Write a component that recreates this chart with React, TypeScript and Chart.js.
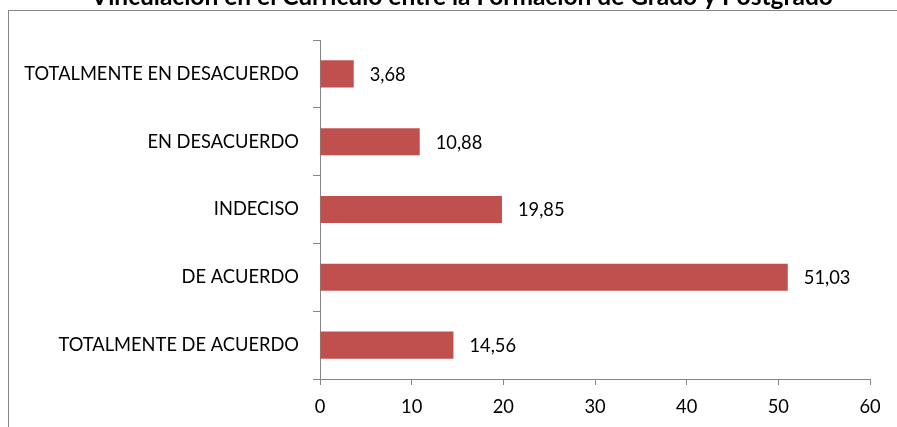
import React, { useEffect, useRef } from "react";
import { Chart, registerables } from "chart.js";

Chart.register(...registerables);

const TITLE = "Vinculación en el Currículo entre la Formación de Grado y Postgrado";
const categories = [
  "TOTALMENTE EN DESACUERDO",
  "EN DESACUERDO",
  "INDECISO",
  "DE ACUERDO",
  "TOTALMENTE DE ACUERDO",
];
const values = [3.68, 10.88, 19.85, 51.03, 14.56];
const valueLabels = ["3,68", "10,88", "19,85", "51,03", "14,56"];
const xTicks = [0, 10, 20, 30, 40, 50, 60];

const FONT = "Lato, 'Open Sans', sans-serif";
const BAR_COLOR = "#C0504D";
const AXIS_COLOR = "#868686";

export default function App() {
  const ref = useRef<HTMLCanvasElement | null>(null);

  useEffect(() => {
    const canvas = ref.current;
    if (!canvas) return;

    const framePlugin = {
      id: "frame",
      beforeDraw(chart: any) {
        const ctx = chart.ctx;
        ctx.save();
        ctx.fillStyle = "#ffffff";
        ctx.fillRect(0, 0, chart.width, chart.height);
        ctx.strokeStyle = AXIS_COLOR;
        ctx.lineWidth = 1;
        ctx.strokeRect(8.5, 10.5, 2000, 2000);
        ctx.restore();
      },
      afterDraw(chart: any) {
        const ctx = chart.ctx;
        ctx.save();
        ctx.font = `bold 24.5px ${FONT}`;
        ctx.fillStyle = "#000";
        ctx.textAlign = "center";
        ctx.textBaseline = "alphabetic";
        ctx.fillText(TITLE, 462, 5);
        ctx.restore();
      },
    };

    const labelPlugin = {
      id: "valueLabels",
      afterDatasetsDraw(chart: any) {
        const ctx = chart.ctx;
        const meta = chart.getDatasetMeta(0);
        ctx.save();
        ctx.font = `18.3px ${FONT}`;
        ctx.fillStyle = "#000";
        ctx.textAlign = "left";
        ctx.textBaseline = "middle";
        meta.data.forEach((bar: any, i: number) => {
          ctx.fillText(valueLabels[i], bar.x + 16, bar.y + 1);
        });
        ctx.restore();
      },
    };

    const chart = new Chart(canvas, {
      type: "bar",
      data: {
        labels: categories,
        datasets: [
          {
            data: values,
            backgroundColor: BAR_COLOR,
            borderWidth: 0,
            categoryPercentage: 1,
            barPercentage: 0.4,
          },
        ],
      },
      options: {
        indexAxis: "y",
        responsive: false,
        animation: false,
        layout: { padding: { top: 40, right: 27, left: 0, bottom: 0 } },
        plugins: {
          legend: { display: false },
          tooltip: { enabled: false },
          title: { display: false },
        },
        scales: {
          x: {
            min: 0,
            max: 60,
            afterBuildTicks(scale: any) {
              scale.ticks = xTicks.map((v) => ({ value: v }));
            },
            afterFit(scale: any) {
              scale.height = 48;
            },
            grid: {
              drawOnChartArea: false,
              drawTicks: true,
              tickLength: 6,
              color: AXIS_COLOR,
            },
            border: { display: true, color: AXIS_COLOR, width: 1 },
            ticks: {
              color: "#000",
              font: { family: FONT, size: 18.3 },
              padding: 11,
              maxRotation: 0,
            },
          },
          y: {
            afterFit(scale: any) {
              scale.width = 320;
            },
            grid: {
              drawOnChartArea: false,
              drawTicks: true,
              tickLength: 7,
              color: AXIS_COLOR,
              offset: true,
            },
            border: { display: true, color: AXIS_COLOR, width: 1 },
            ticks: {
              color: "#000",
              font: { family: FONT, size: 18.3 },
              padding: 14,
            },
          },
        },
      },
      plugins: [framePlugin, labelPlugin],
    } as any);

    return () => chart.destroy();
  }, []);

  return (
    <div style={{ position: "absolute", left: 0, top: 0, width: 897, height: 427, overflow: "hidden" }}>
      <canvas ref={ref} width={897} height={427} style={{ display: "block", width: 897, height: 427 }} />
    </div>
  );
}
